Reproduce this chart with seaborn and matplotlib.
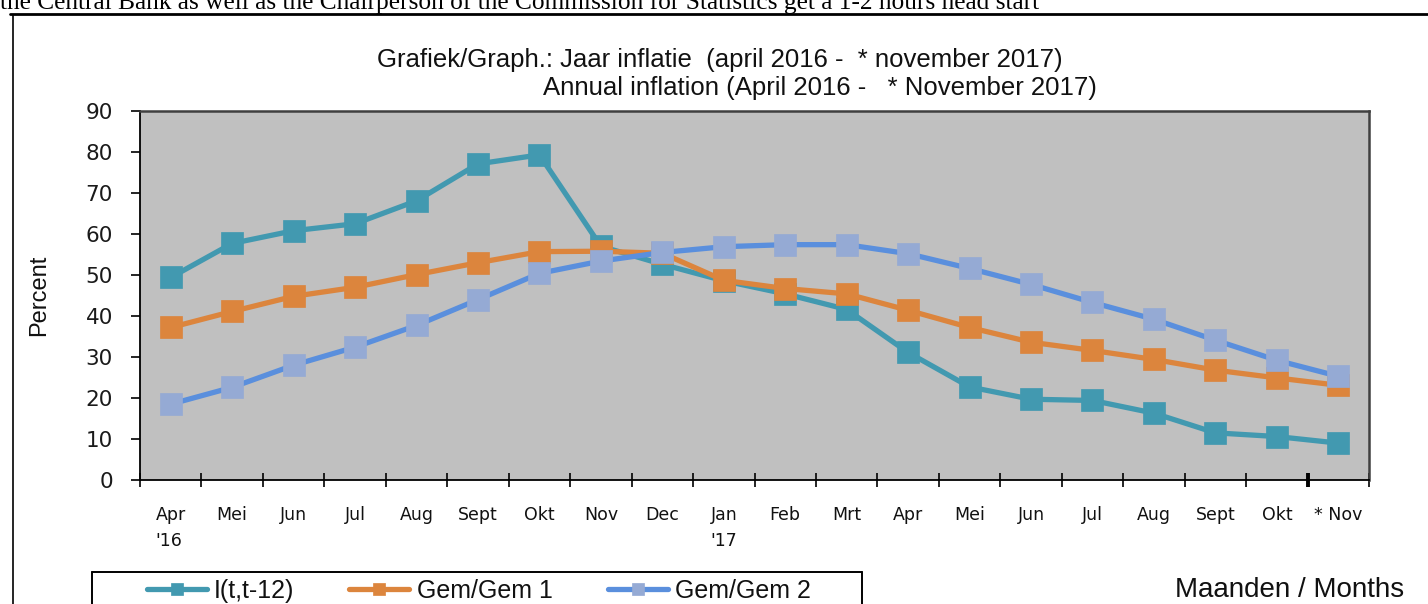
import numpy as np
import pandas as pd
import matplotlib
matplotlib.use("Agg")
import matplotlib.pyplot as plt
from matplotlib.lines import Line2D
import seaborn as sns

# ---- data ----
months = ["Apr\n'16", "Mei", "Jun", "Jul", "Aug", "Sept", "Okt", "Nov", "Dec",
          "Jan\n'17", "Feb", "Mrt", "Apr", "Mei", "Jun", "Jul", "Aug", "Sept",
          "Okt", "* Nov"]
inflation_12 = [49.4, 57.7, 60.8, 62.5, 68.1, 77.1, 79.3, 57.0, 52.6, 48.6,
                45.4, 41.6, 31.1, 22.7, 19.7, 19.4, 16.3, 11.5, 10.6, 9.0]
gem1 = [37.2, 41.1, 44.8, 47.0, 50.1, 53.0, 55.7, 55.8, 55.3, 48.7,
        46.7, 45.4, 41.4, 37.2, 33.6, 31.6, 29.4, 26.8, 24.9, 23.1]
gem2 = [18.5, 22.6, 28.0, 32.4, 37.7, 44.0, 50.4, 53.4, 55.5, 56.9,
        57.4, 57.4, 55.2, 51.6, 47.7, 43.3, 39.2, 34.1, 29.2, 25.3]
series_names = ["I(t,t-12)", "Gem/Gem 1", "Gem/Gem 2"]
yticks = [0, 10, 20, 30, 40, 50, 60, 70, 80, 90]

df = pd.DataFrame({"pos": np.arange(len(months)),
                   series_names[0]: inflation_12,
                   series_names[1]: gem1,
                   series_names[2]: gem2})

sns.set_style("white")
plt.rcParams["font.family"] = ["Liberation Sans", "DejaVu Sans"]

W, H = 1428, 604
fig = plt.figure(figsize=(W / 100, H / 100), dpi=100)
ax = fig.add_axes([140 / W, 1 - 480 / H, (1369 - 140) / W, (480 - 111) / H])
ax.set_facecolor("#C0C0C0")

styles = [
    dict(color="#4299B0", mfc="#4299B0"),
    dict(color="#DC853D", mfc="#DC853D"),
    dict(color="#5A8FDD", mfc="#95AAD4"),
]
for name, st in zip(series_names, styles):
    sns.lineplot(data=df, x="pos", y=name, ax=ax, color=st["color"],
                 linewidth=3.8, marker="s", markersize=15.5,
                 markerfacecolor=st["mfc"], markeredgecolor=st["mfc"],
                 markeredgewidth=0.5, label=name)

ax.set_xlim(-0.5, len(months) - 0.5)
ax.set_ylim(0, 90)
ax.set_yticks(yticks)
ax.set_yticklabels([str(v) for v in yticks], family="DejaVu Sans", fontsize=15.5,
                   color="#1a1a1a")
ax.tick_params(axis="y", direction="out", length=6.5, width=1.2, pad=13,
               left=True, color="black")

ax.set_xticks(np.arange(-0.5, len(months), 1.0))
ax.set_xticklabels([])
ax.tick_params(axis="x", which="major", direction="inout", length=10, width=1.2,
               bottom=True, color="black")
ax.set_xticks(np.arange(len(months)), minor=True)
ax.set_xticklabels(months, minor=True, family="DejaVu Sans", fontsize=12.5,
                   linespacing=1.55, ha="center", va="top", multialignment="left",
                   color="#111111")
ax.tick_params(axis="x", which="minor", length=0, pad=19)
ax.xaxis.get_major_ticks()[19].tick1line.set_markeredgewidth(2.8)
ax.xaxis.get_major_ticks()[19].tick2line.set_markeredgewidth(2.8)

for s in ["left", "bottom"]:
    ax.spines[s].set_color("black")
    ax.spines[s].set_linewidth(1.3)
for s in ["top", "right"]:
    ax.spines[s].set_visible(True)
    ax.spines[s].set_color("#404040")
    ax.spines[s].set_linewidth(1.8)

ax.set_xlabel("")
ax.set_ylabel("Percent", fontsize=17, color="#111111")
ax.yaxis.set_label_coords(-(140 - 50) / (1369 - 140), 0.5)

handles, labels = ax.get_legend_handles_labels()
ax.get_legend().remove()
fig.legend(handles, labels, loc="center left", ncol=3, frameon=False,
           bbox_to_anchor=(134 / W, 1 - 591 / H), borderpad=0,
           fontsize=18, handlelength=2.4, handletextpad=0.3,
           columnspacing=2.2, markerscale=0.6, labelcolor="#111111")

# legend box
lw = 1.4
fig.add_artist(Line2D([92 / W, 862 / W], [1 - 572 / H] * 2, color="black", lw=lw,
                      transform=fig.transFigure))
fig.add_artist(Line2D([92 / W] * 2, [1 - 572 / H, 0], color="black", lw=lw,
                      transform=fig.transFigure))
fig.add_artist(Line2D([862 / W] * 2, [1 - 572 / H, 0], color="black", lw=lw,
                      transform=fig.transFigure))

# page frame lines
fig.add_artist(Line2D([10 / W, 1], [1 - 13.5 / H] * 2, color="black", lw=2.0,
                      transform=fig.transFigure))
fig.add_artist(Line2D([13.5 / W] * 2, [1 - 15 / H, 0], color="black", lw=1.2,
                      transform=fig.transFigure))

# titles and texts
fig.text(720 / W, 1 - 60 / H,
         "Grafiek/Graph.: Jaar inflatie  (april 2016 -  * november 2017)",
         ha="center", va="center", fontsize=18.5, color="#111111")
fig.text(820 / W, 1 - 88 / H,
         "Annual inflation (April 2016 -   * November 2017)",
         ha="center", va="center", fontsize=18.5, color="#111111")
fig.text(1175 / W, 1 - 590 / H, "Maanden / Months", ha="left", va="center",
         fontsize=20, color="#111111")
fig.text(0, 1 - 9 / H,
         "the Central Bank as well as the Chairperson of the Commission for Statistics get a 1-2 hours head start",
         ha="left", va="baseline", fontsize=18.3, family="Liberation Serif",
         color="black")

fig.savefig("out.png", dpi=100)
